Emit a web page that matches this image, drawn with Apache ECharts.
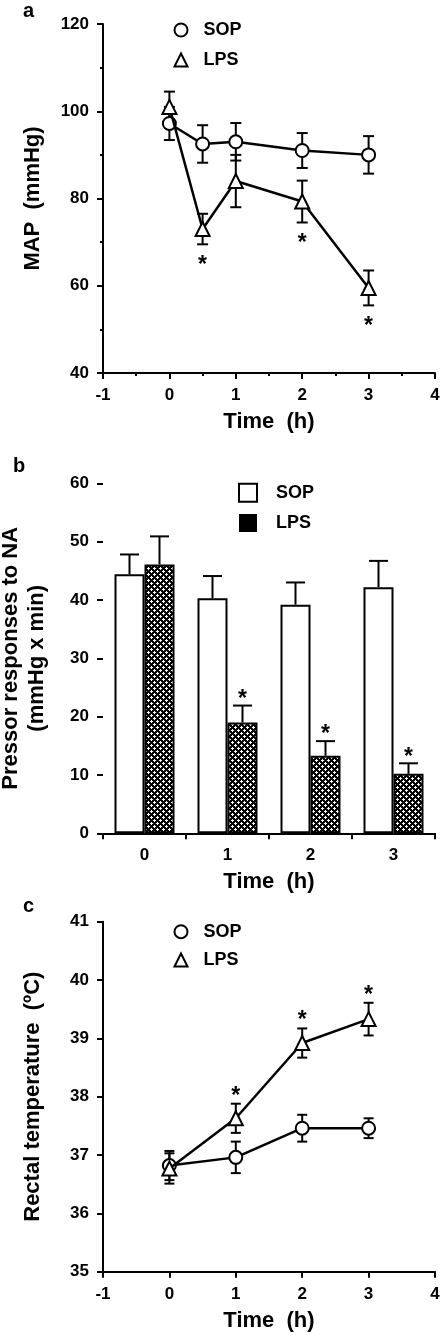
<!DOCTYPE html>
<html><head><meta charset="utf-8">
<script src="https://cdn.jsdelivr.net/npm/echarts@6/dist/echarts.min.js"></script>
<style>html,body{margin:0;padding:0;background:#fff}#c{width:444px;height:1335px}</style>
</head><body><div id="c"></div>
<script>
// ---------- Panel a: MAP (mmHg) ----------
const timeA = [0, 0.5, 1, 2, 3];
const mapSOP = [97.2, 92.5, 93.0, 91.0, 90.0];
const mapSOPErr = [3.8, 4.3, 4.3, 4.0, 4.3];
const mapLPS = [101.0, 73.0, 84.0, 79.3, 59.5];
const mapLPSErr = [3.5, 3.5, 6.0, 4.8, 4.0];
const mapLPSSig = [0, 1, 0, 1, 1];

// ---------- Panel b: pressor responses ----------
const catB = ['0', '1', '2', '3'];
const pressSOP = [44.4, 40.3, 39.2, 42.2];
const pressSOPErr = [3.4, 3.8, 3.8, 4.5];
const pressLPS = [46.1, 19.0, 13.3, 10.2];
const pressLPSErr = [4.8, 2.9, 2.5, 1.8];
const pressLPSSig = [0, 1, 1, 1];

// ---------- Panel c: rectal temperature ----------
const timeC = [0, 1, 2, 3];
const tempSOP = [36.82, 36.96, 37.46, 37.46];
const tempSOPErr = [0.25, 0.27, 0.23, 0.17];
const tempLPS = [36.77, 37.63, 38.92, 39.33];
const tempLPSErr = [0.26, 0.25, 0.25, 0.28];
const tempLPSSig = [0, 1, 1, 1];

const FONT = '"Liberation Sans", Arial, Helvetica, sans-serif';
const BAR_W = 30;

function makePattern() {
  const c = document.createElement('canvas');
  c.width = 6; c.height = 6;
  const g = c.getContext('2d');
  g.fillStyle = '#000'; g.fillRect(0, 0, 6, 6);
  g.fillStyle = '#fff';
  g.fillRect(1, 0, 1, 3); g.fillRect(0, 1, 3, 1);
  g.fillRect(4, 3, 1, 3); g.fillRect(3, 4, 3, 1);
  return c;
}

const pairs = (xs, ys) => xs.map((x, i) => [x, ys[i]]);
const triples = (xs, ys, es, ss) => xs.map((x, i) => [x, ys[i], es[i], ss ? ss[i] : 0]);

function errRender(capW, upOnly, dx) {
  return function (params, api) {
    const x = api.value(0), m = api.value(1), e = api.value(2);
    const hi = api.coord([x, m + e]);
    const lo = api.coord([x, upOnly ? m : m - e]);
    const cx = hi[0] + dx;
    const st = { stroke: '#000', lineWidth: 2 };
    const children = [
      { type: 'line', shape: { x1: cx, y1: hi[1], x2: cx, y2: lo[1] }, style: st },
      { type: 'line', shape: { x1: cx - capW / 2, y1: hi[1], x2: cx + capW / 2, y2: hi[1] }, style: st }
    ];
    if (!upOnly) children.push({ type: 'line', shape: { x1: cx - capW / 2, y1: lo[1], x2: cx + capW / 2, y2: lo[1] }, style: st });
    return { type: 'group', children };
  };
}

function starRender(dir, gap, dx) {
  return function (params, api) {
    if (!api.value(3)) return null;
    const x = api.value(0), m = api.value(1), e = api.value(2);
    const p = api.coord([x, dir > 0 ? m + e : m - e]);
    return {
      type: 'text',
      style: {
        text: '*', x: p[0] + dx, y: p[1] - dir * gap + 5,
        align: 'center', verticalAlign: 'middle',
        fontSize: 23, fontWeight: 'bold', fontFamily: FONT, fill: '#000'
      }
    };
  };
}

const lineAx = { onZero: false, lineStyle: { color: '#000', width: 2 } };
const tickAx = { show: true, length: 6, lineStyle: { color: '#000', width: 2 } };
const lblAx = { color: '#000', fontSize: 17, fontWeight: 'bold', fontFamily: FONT, margin: 14 };
const nameTS = { color: '#000', fontSize: 22, fontWeight: 'bold', fontFamily: FONT };

function valAxis(o) {
  return Object.assign({
    type: 'value', splitLine: { show: false }, axisLine: lineAx, axisTick: tickAx,
    axisLabel: lblAx, nameLocation: 'middle', nameTextStyle: nameTS
  }, o);
}

const minorT = { show: true, splitNumber: 2, length: 3, lineStyle: { color: '#000', width: 2 } };

const legendText = { color: '#000', fontSize: 18, fontWeight: 'bold', fontFamily: FONT };
const openStyle = { color: '#fff', borderColor: '#000', borderWidth: 2 };

const chart = echarts.init(document.getElementById('c'), null, { renderer: 'canvas' });
const option = {
  animation: false,
  backgroundColor: '#fff',
  title: [
    { text: 'a', left: 23, top: 1, padding: 0, textStyle: { fontSize: 20, fontWeight: 'bold', fontFamily: FONT, color: '#000' } },
    { text: 'b', left: 13, top: 456, padding: 0, textStyle: { fontSize: 20, fontWeight: 'bold', fontFamily: FONT, color: '#000' } },
    { text: 'c', left: 23, top: 896, padding: 0, textStyle: { fontSize: 20, fontWeight: 'bold', fontFamily: FONT, color: '#000' } }
  ],
  grid: [
    { left: 103, top: 24, width: 332, height: 349, outerBoundsMode: 'none' },
    { left: 103, top: 483.3, width: 332, height: 350, outerBoundsMode: 'none' },
    { left: 103, top: 921.7, width: 332, height: 350, outerBoundsMode: 'none' }
  ],
  legend: [
    {
      orient: 'vertical', left: 173.5, top: 21, padding: 0, itemGap: 12, itemWidth: 13, itemHeight: 13,
      textStyle: Object.assign({ padding: [0, 0, 0, 11] }, legendText), selectedMode: false,
      data: [{ name: 'SOP', icon: 'circle', itemStyle: openStyle }, { name: 'LPS', icon: 'triangle', itemStyle: openStyle }]
    },
    {
      orient: 'vertical', left: 238, top: 482.7, padding: 0, itemGap: 11.3, itemWidth: 18, itemHeight: 18,
      textStyle: Object.assign({ padding: [0, 0, 0, 14] }, legendText), selectedMode: false,
      data: [{ name: 'SOP', icon: 'rect', itemStyle: openStyle }, { name: 'LPS', icon: 'rect', itemStyle: { color: '#000', borderColor: '#000', borderWidth: 0 } }]
    },
    {
      orient: 'vertical', left: 173.5, top: 922.7, padding: 0, itemGap: 10.3, itemWidth: 13, itemHeight: 13,
      textStyle: Object.assign({ padding: [0, 0, 0, 11] }, legendText), selectedMode: false,
      data: [{ name: 'SOP', icon: 'circle', itemStyle: openStyle }, { name: 'LPS', icon: 'triangle', itemStyle: openStyle }]
    }
  ],
  xAxis: [
    valAxis({ gridIndex: 0, min: -1, max: 4, interval: 1, minorTick: minorT, name: 'Time  (h)', nameGap: 38 }),
    {
      type: 'category', gridIndex: 1, data: catB, axisLine: lineAx, axisTick: tickAx, axisLabel: lblAx,
      splitLine: { show: false }, name: 'Time  (h)', nameLocation: 'middle', nameGap: 38, nameTextStyle: nameTS
    },
    valAxis({ gridIndex: 2, min: -1, max: 4, interval: 1, name: 'Time  (h)', nameGap: 38 })
  ],
  yAxis: [
    valAxis({ gridIndex: 0, min: 40, max: 120, interval: 20, minorTick: minorT, name: 'MAP  (mmHg)', nameGap: 59 }),
    valAxis({ gridIndex: 1, min: 0, max: 60, interval: 10, name: 'Pressor responses to NA\n(mmHg x min)', nameGap: 53,
      nameTextStyle: Object.assign({ lineHeight: 26 }, nameTS) }),
    valAxis({ gridIndex: 2, min: 35, max: 41, interval: 1, name: 'Rectal temperature  (ºC)', nameGap: 59 })
  ],
  series: [
    // ----- panel a -----
    { type: 'custom', name: 'errA-SOP', xAxisIndex: 0, yAxisIndex: 0, z: 1, renderItem: errRender(11, false, 0), data: triples(timeA, mapSOP, mapSOPErr), encode: { x: 0, y: 1 } },
    { type: 'custom', name: 'errA-LPS', xAxisIndex: 0, yAxisIndex: 0, z: 1, renderItem: errRender(11, false, 0), data: triples(timeA, mapLPS, mapLPSErr), encode: { x: 0, y: 1 } },
    { type: 'line', name: 'SOP', xAxisIndex: 0, yAxisIndex: 0, z: 2, data: pairs(timeA, mapSOP), symbol: 'circle', symbolSize: 13,
      lineStyle: { color: '#000', width: 2.5 }, itemStyle: openStyle },
    { type: 'line', name: 'LPS', xAxisIndex: 0, yAxisIndex: 0, z: 3, data: pairs(timeA, mapLPS), symbol: 'triangle', symbolSize: 14,
      lineStyle: { color: '#000', width: 2.5 }, itemStyle: openStyle },
    { type: 'custom', name: 'sigA', xAxisIndex: 0, yAxisIndex: 0, z: 4, renderItem: starRender(-1, 16, 0), data: triples(timeA, mapLPS, mapLPSErr, mapLPSSig), encode: { x: 0, y: 1 } },
    // ----- panel b -----
    { type: 'bar', name: 'SOP', xAxisIndex: 1, yAxisIndex: 1, data: pressSOP, barWidth: BAR_W, barGap: '0%',
      itemStyle: { color: '#fff', borderColor: '#000', borderWidth: 2 } },
    { type: 'bar', name: 'LPS', xAxisIndex: 1, yAxisIndex: 1, data: pressLPS, barWidth: BAR_W, barGap: '0%',
      itemStyle: { color: { image: makePattern(), repeat: 'repeat' }, borderColor: '#000', borderWidth: 2 } },
    { type: 'custom', name: 'errB-SOP', xAxisIndex: 1, yAxisIndex: 1, z: 3, renderItem: errRender(19, true, -BAR_W / 2), data: triples(catB.map((c, i) => i), pressSOP, pressSOPErr), encode: { x: 0, y: 1 } },
    { type: 'custom', name: 'errB-LPS', xAxisIndex: 1, yAxisIndex: 1, z: 3, renderItem: errRender(19, true, BAR_W / 2), data: triples(catB.map((c, i) => i), pressLPS, pressLPSErr), encode: { x: 0, y: 1 } },
    { type: 'custom', name: 'sigB', xAxisIndex: 1, yAxisIndex: 1, z: 4, renderItem: starRender(1, 11, BAR_W / 2), data: triples(catB.map((c, i) => i), pressLPS, pressLPSErr, pressLPSSig), encode: { x: 0, y: 1 } },
    // ----- panel c -----
    { type: 'custom', name: 'errC-SOP', xAxisIndex: 2, yAxisIndex: 2, z: 1, renderItem: errRender(10, false, 0), data: triples(timeC, tempSOP, tempSOPErr), encode: { x: 0, y: 1 } },
    { type: 'custom', name: 'errC-LPS', xAxisIndex: 2, yAxisIndex: 2, z: 1, renderItem: errRender(10, false, 0), data: triples(timeC, tempLPS, tempLPSErr), encode: { x: 0, y: 1 } },
    { type: 'line', name: 'SOP', xAxisIndex: 2, yAxisIndex: 2, z: 2, data: pairs(timeC, tempSOP), symbol: 'circle', symbolSize: 13,
      lineStyle: { color: '#000', width: 2.5 }, itemStyle: openStyle },
    { type: 'line', name: 'LPS', xAxisIndex: 2, yAxisIndex: 2, z: 3, data: pairs(timeC, tempLPS), symbol: 'triangle', symbolSize: 14,
      lineStyle: { color: '#000', width: 2.5 }, itemStyle: openStyle },
    { type: 'custom', name: 'sigC', xAxisIndex: 2, yAxisIndex: 2, z: 4, renderItem: starRender(1, 12.5, 0), data: triples(timeC, tempLPS, tempLPSErr, tempLPSSig), encode: { x: 0, y: 1 } }
  ]
};
chart.setOption(option);
</script>
</body></html>
